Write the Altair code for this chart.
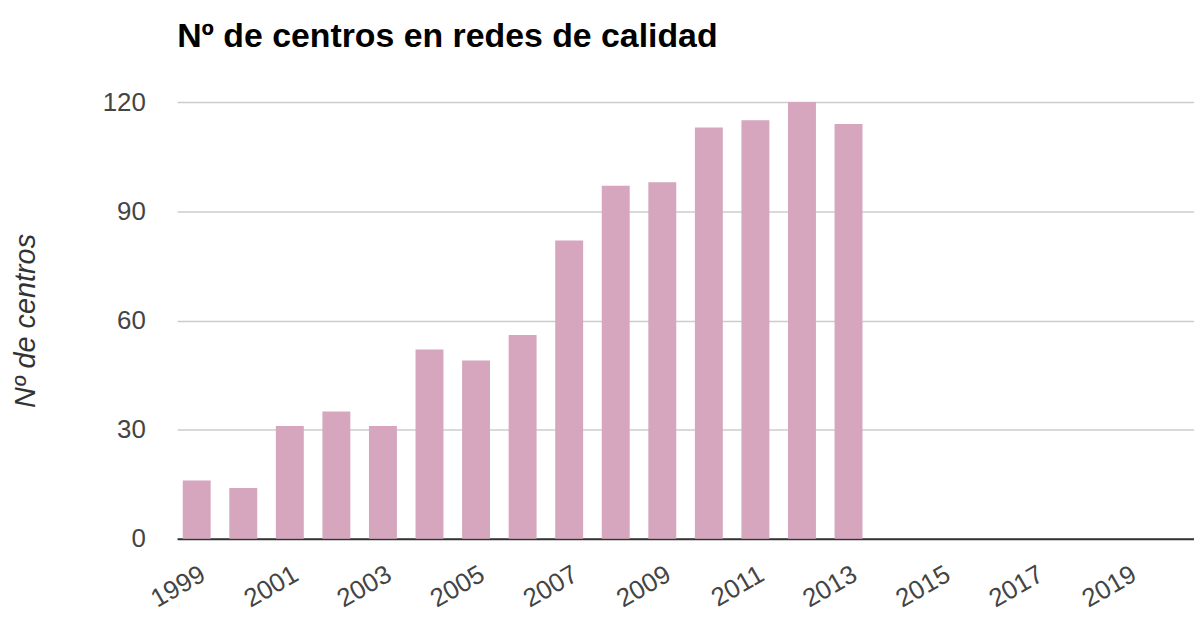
import altair as alt
import pandas as pd

years = list(range(1999, 2014))
centros = [16, 14, 31, 35, 31, 52, 49, 56, 82, 97, 98, 113, 115, 120, 114]
all_years = list(range(1999, 2021))
label_years = list(range(1999, 2021, 2))
y_ticks = [0, 30, 60, 90, 120]

df = pd.DataFrame({"year": years, "centros": centros})

FONT = "Liberation Sans, Arial, sans-serif"

chart = alt.Chart(df).mark_bar(color="#d5a6bd").encode(
    x=alt.X(
        "year:O",
        scale=alt.Scale(domain=all_years, paddingInner=0.4, paddingOuter=0.12),
        axis=alt.Axis(
            values=label_years,
            title=None,
            labelAngle=-30,
            labelAlign="right",
            labelBaseline="top",
            labelPadding=22,
            labelFontSize=26,
            labelFont=FONT,
            labelColor="#444444",
            ticks=False,
            domainColor="#333333",
            domainWidth=2,
            grid=False,
        ),
    ),
    y=alt.Y(
        "centros:Q",
        scale=alt.Scale(domain=[0, 120], nice=False),
        axis=alt.Axis(
            values=y_ticks,
            title="Nº de centros",
            titleFont=FONT,
            titleFontSize=29,
            titleFontStyle="italic",
            titleFontWeight="normal",
            titleColor="#333333",
            titleAngle=-90,
            titleX=-143,
            titleY=219.5,
            titleAlign="center",
            titleBaseline="alphabetic",
            labelFont=FONT,
            labelFontSize=26,
            labelColor="#444444",
            labelPadding=32,
            ticks=False,
            domain=False,
            gridColor="#cccccc",
            gridWidth=1.5,
        ),
    ),
).properties(
    width=1022,
    height=439,
    title=alt.TitleParams(
        "Nº de centros en redes de calidad",
        anchor="start",
        frame="group",
        font=FONT,
        fontSize=34,
        fontWeight="bold",
        color="#000000",
        baseline="alphabetic",
        offset=8,
    ),
    autosize=alt.AutoSizeParams(type="none"),
    padding={"left": 170, "top": 93, "right": 0, "bottom": 76},
).configure_view(stroke=None)

chart.save("out.html", embed_options={"renderer": "svg", "actions": False})
